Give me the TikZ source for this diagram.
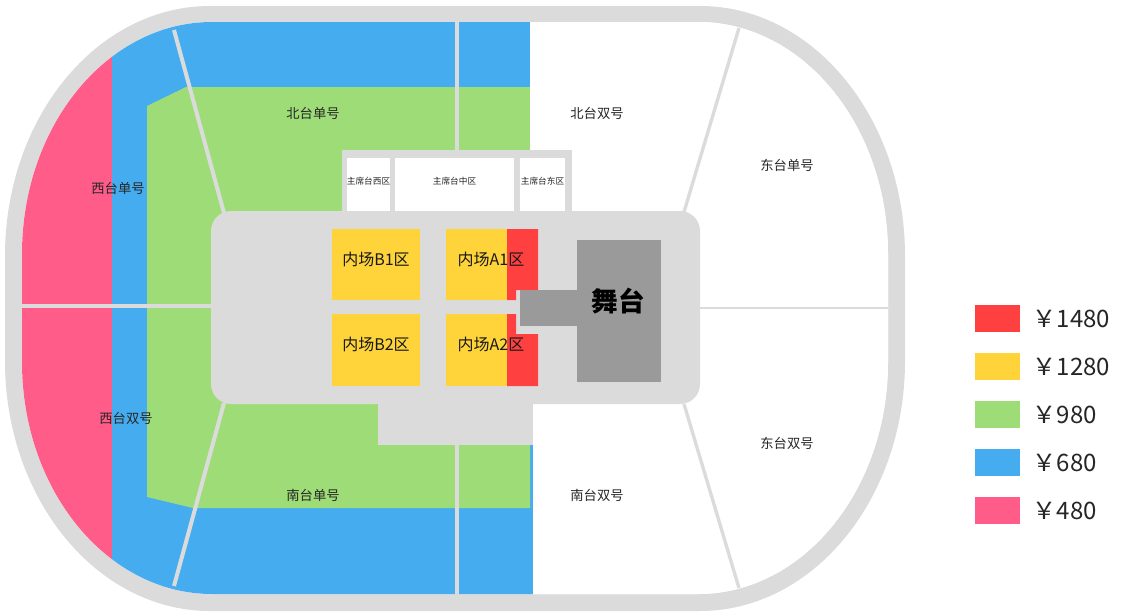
\documentclass[tikz,border=0pt]{standalone}
\usepackage{fontspec}
\setmainfont{Noto Sans CJK SC}
\definecolor{lg}{HTML}{DCDBDC}
\definecolor{cred}{HTML}{FF4040}
\definecolor{cyel}{HTML}{FFD43A}
\definecolor{cgrn}{HTML}{9EDC78}
\definecolor{cblu}{HTML}{45ADEF}
\definecolor{cpnk}{HTML}{FF5C8A}
\definecolor{cstg}{HTML}{9A9A9A}
\newcommand{\stadiumpath}[6]{%
(#1+#5,#2) -- (#3-#5,#2)
.. controls (#3-0.448*#5,#2) and (#3,#2+0.448*#6) .. (#3,#2+#6)
-- (#3,#4-#6)
.. controls (#3,#4-0.448*#6) and (#3-0.448*#5,#4) .. (#3-#5,#4)
-- (#1+#5,#4)
.. controls (#1+0.448*#5,#4) and (#1,#4-0.448*#6) .. (#1,#4-#6)
-- (#1,#2+#6)
.. controls (#1,#2+0.448*#6) and (#1+0.448*#5,#2) .. (#1+#5,#2) -- cycle}
\tikzset{
  sep/.style={draw=lg,line width=3pt},
  lab/.style={font=\fontsize{10}{12}\selectfont,text=black!85},
  vip/.style={font=\fontsize{6.5}{8}\selectfont,text=black!85},
  fl/.style={font=\fontsize{12}{14}\selectfont,text=black!90},
  legt/.style={font=\fontsize{18}{20}\selectfont,text=black!85,anchor=west},
}
\begin{document}
\begin{tikzpicture}[x=0.75pt,y=-0.75pt]
\useasboundingbox (0,0) rectangle (1129,614);
\fill[white] (0,0) rectangle (1129,614);
\fill[lg] \stadiumpath{5}{6}{905}{611}{205}{250};
\fill[white] \stadiumpath{22}{22}{888}{594}{190}{232};
\begin{scope}
\clip \stadiumpath{22}{22}{888}{594}{190}{232};
\fill[cpnk] (0,0) rectangle (112,614);
\fill[cblu] (112,0) rectangle (533,614);
\fill[cgrn] (147,106) -- (186,87) -- (530,87) -- (530,508) -- (193,508) -- (147,497) -- cycle;
\fill[white] (530,0) rectangle (900,404);
\fill[white] (533,404) rectangle (900,614);
\draw[sep] (174,30) -- (224,213);
\draw[sep] (224,403) -- (174,586);
\draw[sep] (456.5,20) -- (456.5,212);
\draw[sep] (456.5,440) -- (456.5,596);
\draw[sep] (20,306) -- (212,306);
\draw[sep,line width=2pt] (700,308) -- (890,308);
\draw[sep,line width=2.5pt] (739,28) -- (684,212);
\draw[sep,line width=2.5pt] (684,404) -- (739,588);
\end{scope}
% center floor
\fill[lg,rounded corners=15pt] (211,211) rectangle (700,404);
\fill[lg] (378,395) rectangle (533,445);
\fill[lg] (342,150) rectangle (572,220);
\fill[white] (347,158) rectangle (390,211);
\fill[white] (395,158) rectangle (514,211);
\fill[white] (520,158) rectangle (565,211);
% floor blocks
\fill[cyel] (332,229) rectangle (420,300);
\fill[cyel] (332,314) rectangle (420,386);
\fill[cyel] (446,229) rectangle (508,300);
\fill[cyel] (446,314) rectangle (508,386);
\fill[cred] (507,229) -- (538,229) -- (538,290) -- (516,290) -- (516,300) -- (507,300) -- cycle;
\fill[cred] (507,314) -- (516,314) -- (516,334) -- (538,334) -- (538,386) -- (507,386) -- cycle;
\fill[cstg] (520,290) rectangle (577,326);
\fill[cstg] (577,240) rectangle (661,382);
% labels
\node[lab] (nsd) at (313,113) {北台单号};
\node[lab] (nss) at (597,113) {北台双号};
\node[lab] (esd) at (787,165) {东台单号};
\node[lab] (ess) at (787,443) {东台双号};
\node[lab] (sss) at (597,495) {南台双号};
\node[lab] (ssd) at (313,495) {南台单号};
\node[lab] (wsd) at (118,188) {西台单号};
\node[lab] (wss) at (126,418) {西台双号};
\node[vip] (vw) at (368.5,181) {主席台西区};
\node[vip] (vc) at (454.5,181) {主席台中区};
\node[vip] (ve) at (542.5,181) {主席台东区};
\node[fl] (b1) at (376,259) {内场B1区};
\node[fl] (b2) at (376,344) {内场B2区};
\node[fl] (a1) at (491,259) {内场A1区};
\node[fl] (a2) at (491,344) {内场A2区};
\node[font=\bfseries\fontsize{20}{22}\selectfont] (stage) at (618,301) {舞台};
% legend
\fill[cred] (975,305) rectangle (1020,332);
\fill[cyel] (975,353) rectangle (1020,380);
\fill[cgrn] (975,401) rectangle (1020,428);
\fill[cblu] (975,449) rectangle (1020,476);
\fill[cpnk] (975,497) rectangle (1020,524);
\node[legt] (l1) at (1028,319) {￥1480};
\node[legt] (l2) at (1028,367) {￥1280};
\node[legt] (l3) at (1028,415) {￥980};
\node[legt] (l4) at (1028,463) {￥680};
\node[legt] (l5) at (1028,511) {￥480};
\end{tikzpicture}
\end{document}
